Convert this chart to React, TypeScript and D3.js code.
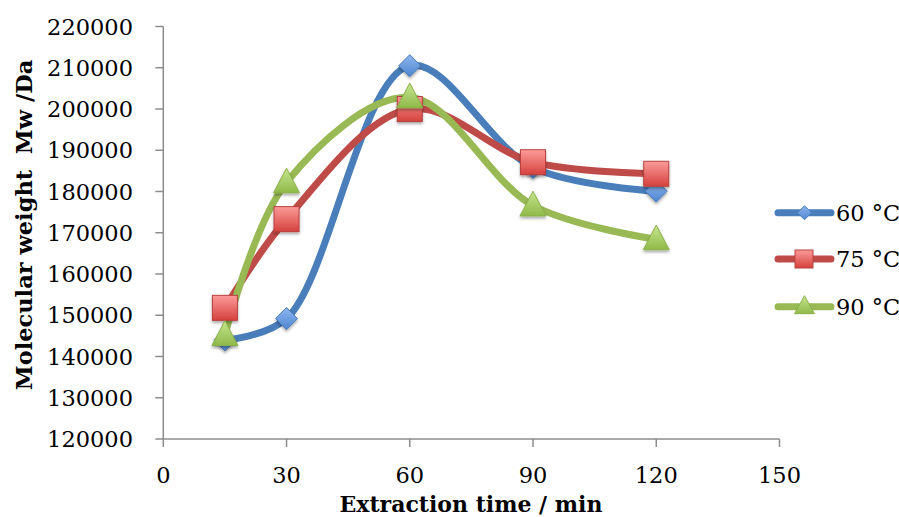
import React from "react";
import * as d3 from "d3";

const times = [15, 30, 60, 90, 120];
const series60 = [144000, 149200, 210500, 185800, 180100];
const series75 = [151800, 173300, 200000, 187100, 184300];
const series90 = [145200, 182200, 202800, 176600, 168400];
const seriesNames = ["60 °C", "75 °C", "90 °C"];
const yTicks = [120000, 130000, 140000, 150000, 160000, 170000, 180000, 190000, 200000, 210000, 220000];
const xTicks = [0, 30, 60, 90, 120, 150];

const W = 899, H = 517;
const FONT = "'DejaVu Serif', serif";

export default function App() {
  const x = d3.scaleLinear().domain([0, 150]).range([163.3, 779.5]);
  const y = d3.scaleLinear().domain([120000, 220000]).range([439, 26.5]);
  const line = d3
    .line<[number, number]>()
    .x((d) => x(d[0]))
    .y((d) => y(d[1]))
    .curve(d3.curveCatmullRom.alpha(0.5));

  const colors = ["#4a7ebb", "#be4b48", "#98b954"];
  const data = [series60, series75, series90];
  const axisColor = "#8c8c8c";

  const marker = (k: number, cx: number, cy: number, key: string) => {
    if (k === 0) {
      const s = 11;
      return (
        <path key={key} d={`M${cx},${cy - s}L${cx + s},${cy}L${cx},${cy + s}L${cx - s},${cy}Z`}
          fill="url(#gBlue)" stroke="#4a7ebb" strokeWidth={1} filter="url(#shadow)" />
      );
    }
    if (k === 1) {
      const s = 12.5;
      return (
        <rect key={key} x={cx - s} y={cy - s} width={2 * s} height={2 * s}
          fill="url(#gRed)" stroke="#b9403d" strokeWidth={1} filter="url(#shadow)" />
      );
    }
    const s = 13;
    return (
      <path key={key} d={`M${cx},${cy - s * 1.1}L${cx + s},${cy + s * 0.8}L${cx - s},${cy + s * 0.8}Z`}
        fill="url(#gGreen)" stroke="#8cb14a" strokeWidth={1} filter="url(#shadow)" />
    );
  };

  const legendY = [212.7, 259, 306.7];

  return (
    <svg width={W} height={H} style={{ position: "absolute", left: 0, top: 0, background: "#fff" }}>
      <defs>
        <linearGradient id="gBlue" x1="0" y1="0" x2="0" y2="1">
          <stop offset="0" stopColor="#8db6ee" />
          <stop offset="1" stopColor="#4f86d0" />
        </linearGradient>
        <linearGradient id="gRed" x1="0" y1="0" x2="0" y2="1">
          <stop offset="0" stopColor="#fb9c9a" />
          <stop offset="1" stopColor="#d5413d" />
        </linearGradient>
        <linearGradient id="gGreen" x1="0" y1="0" x2="0" y2="1">
          <stop offset="0" stopColor="#c6e68f" />
          <stop offset="1" stopColor="#8fb94a" />
        </linearGradient>
        <filter id="shadow" x="-50%" y="-50%" width="200%" height="200%">
          <feDropShadow dx="0" dy="2" stdDeviation="1.5" floodColor="#000" floodOpacity="0.35" />
        </filter>
      </defs>

      {/* axes */}
      <line x1={x(0)} x2={x(0)} y1={y(220000)} y2={y(120000)} stroke={axisColor} strokeWidth={1.5} />
      <line x1={x(0)} x2={x(150)} y1={y(120000)} y2={y(120000)} stroke={axisColor} strokeWidth={1.5} />
      {yTicks.map((t) => (
        <g key={"y" + t}>
          <line x1={x(0) - 8} x2={x(0)} y1={y(t)} y2={y(t)} stroke={axisColor} strokeWidth={1.5} />
          <text x={133} y={y(t)} dy="0.36em" textAnchor="end" fontFamily={FONT} fontSize={22.5} fill="#000">
            {t}
          </text>
        </g>
      ))}
      {xTicks.map((t) => (
        <g key={"x" + t}>
          <line x1={x(t)} x2={x(t)} y1={y(120000)} y2={y(120000) + 8} stroke={axisColor} strokeWidth={1.5} />
          <text x={x(t)} y={483} textAnchor="middle" fontFamily={FONT} fontSize={22.5} fill="#000">
            {t}
          </text>
        </g>
      ))}

      <text x={471} y={512} textAnchor="middle" fontFamily={FONT} fontWeight="bold" fontSize={22} fill="#000">
        Extraction time / min
      </text>
      <text transform="translate(32,225) rotate(-90)" textAnchor="middle" fontFamily={FONT} fontWeight="bold"
        fontSize={22.5} fill="#000" style={{ whiteSpace: "pre" }}>
        {"Molecular weight  Mw /Da"}
      </text>

      {/* lines */}
      {data.map((vals, k) => (
        <path key={"l" + k} d={line(times.map((t, i) => [t, vals[i]] as [number, number])) || ""}
          fill="none" stroke={colors[k]} strokeWidth={7} strokeLinecap="round" strokeLinejoin="round" />
      ))}
      {data.map((vals, k) => times.map((t, i) => marker(k, x(t), y(vals[i]), `m${k}-${i}`)))}

      {/* legend */}
      {seriesNames.map((n, k) => (
        <g key={"lg" + k}>
          <line x1={778} x2={831} y1={legendY[k]} y2={legendY[k]} stroke={colors[k]} strokeWidth={7} strokeLinecap="round" />
          {k === 0 && (
            <path d={`M804.5,${legendY[k] - 7}L811.5,${legendY[k]}L804.5,${legendY[k] + 7}L797.5,${legendY[k]}Z`}
              fill="url(#gBlue)" stroke="#4a7ebb" strokeWidth={1} />
          )}
          {k === 1 && (
            <rect x={795} y={legendY[k] - 9} width={18} height={18} fill="url(#gRed)" stroke="#b9403d" strokeWidth={1} />
          )}
          {k === 2 && (
            <path d={`M804.5,${legendY[k] - 11}L814.5,${legendY[k] + 7}L794.5,${legendY[k] + 7}Z`}
              fill="url(#gGreen)" stroke="#8cb14a" strokeWidth={1} />
          )}
          <text x={836} y={legendY[k]} dy="0.36em" fontFamily={FONT} fontSize={22.5} fill="#000">
            {n}
          </text>
        </g>
      ))}
    </svg>
  );
}
